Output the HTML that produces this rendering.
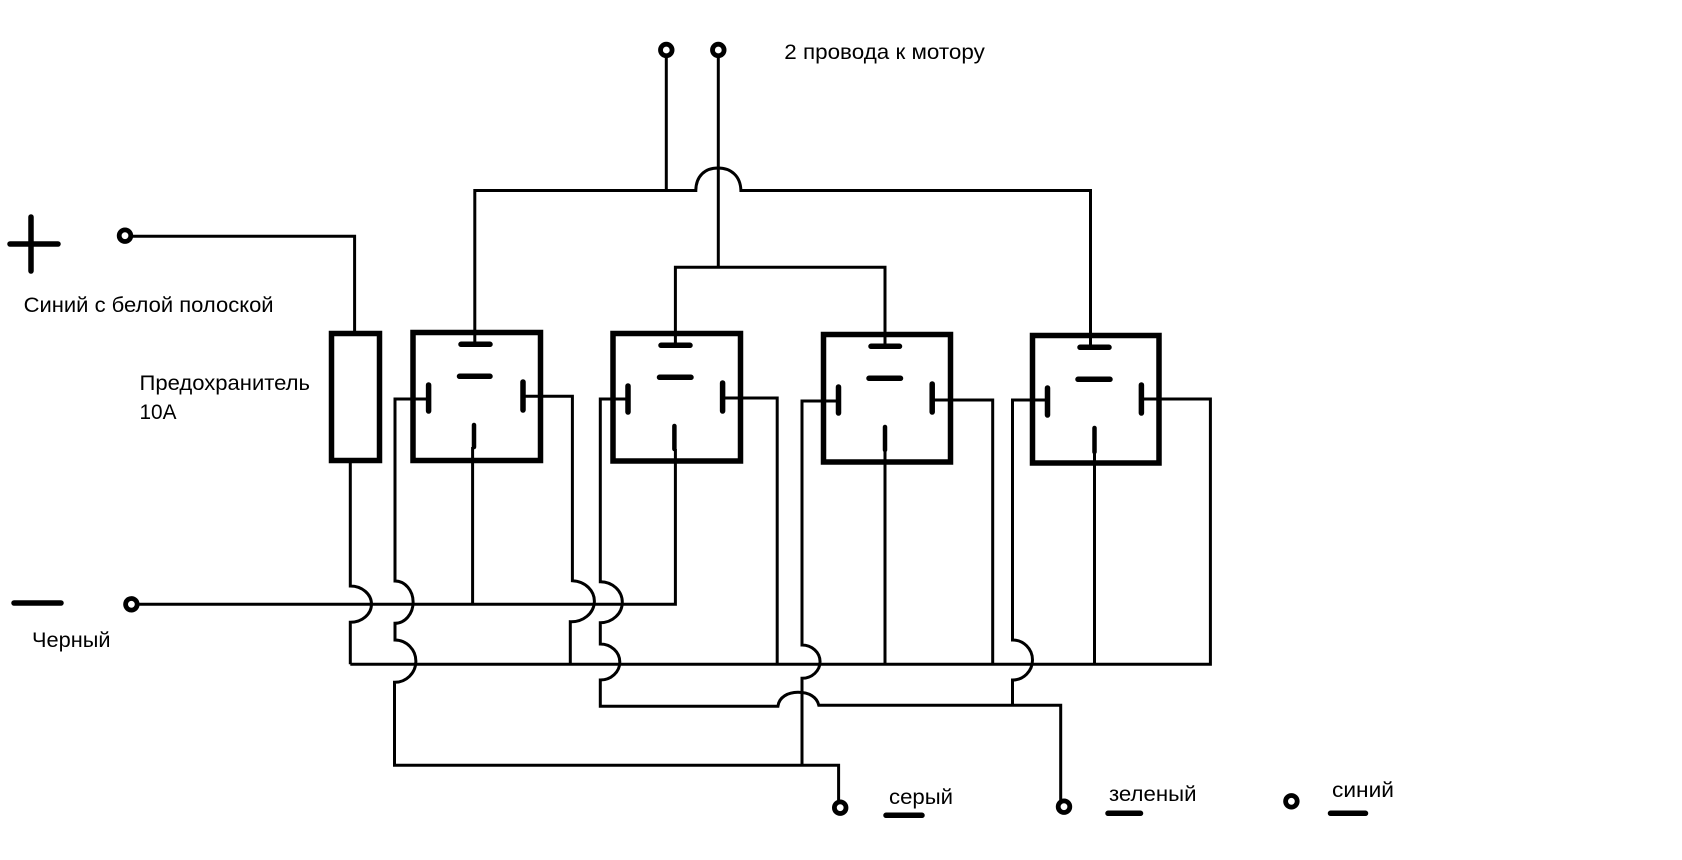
<!DOCTYPE html>
<html lang="ru">
<head>
<meta charset="utf-8">
<title>Схема</title>
<style>
html,body{margin:0;padding:0;background:#fff;width:1682px;height:860px;overflow:hidden}
svg{display:block}
text{font-family:"Liberation Sans","DejaVu Sans",sans-serif;font-size:21px;fill:#000}
.w{fill:none;stroke:#000;stroke-width:3}
.b{fill:#fff;stroke:#000;stroke-width:5.5}
.f{fill:none;stroke:#000;stroke-width:5.5;stroke-linecap:round}
.p{fill:none;stroke:#000;stroke-width:4.5;stroke-linecap:round}
.t{fill:#fff;stroke:#000;stroke-width:4.8}
</style>
</head>
<body>
<svg width="1682" height="860" viewBox="0 0 1682 860" xmlns="http://www.w3.org/2000/svg">
<rect width="1682" height="860" fill="#fff"/>

<!-- boxes -->
<rect class="b" x="331.5" y="333.5" width="48" height="127"/>
<rect class="b" x="413" y="332.5" width="127.5" height="128"/>
<rect class="b" x="613" y="333.5" width="127.5" height="127.5"/>
<rect class="b" x="823.5" y="334.5" width="127" height="127.5"/>
<rect class="b" x="1032.5" y="335.5" width="126.5" height="127.5"/>

<!-- top wiring -->
<path class="w" d="M666.3 50V190.5"/>
<path class="w" d="M718.3 50V267.3"/>
<path class="w" d="M474.8 344V190.5H695.8C696 176 705 168 718 168C731 168 740.5 176 740.9 190.5H1090.5V347"/>
<path class="w" d="M675.4 345V267.3H885V346"/>

<!-- plus -->
<path class="f" d="M10 244H58M31 217V271"/>
<path class="w" d="M125 236.3H354.6V331"/>

<!-- minus line -->
<path class="f" d="M14 603H61"/>
<path class="w" d="M131 604.3H675.4V449"/>

<!-- relay bottom pins -->
<path class="p" d="M474 425V447"/>
<path class="p" d="M674.4 426V449"/>
<path class="p" d="M885 427V450"/>
<path class="p" d="M1094.5 428V452"/>
<path class="w" d="M472.6 447V604"/>
<path class="w" d="M885 450V664"/>
<path class="w" d="M1094.5 452V664"/>

<!-- lower bus -->
<path class="w" d="M350.3 664.3H1210.4V399H1141.4"/>

<!-- fuse lower -->
<path class="w" d="M350.3 463V586A21 18 0 0 1 350.3 622.3V664.3"/>

<!-- relay 1 left -->
<path class="w" d="M428.6 399H395V581A18 21 0 0 1 395 623.3V640A21 21 0 0 1 394.5 682.3V765.3H838.6V805"/>
<!-- relay 1 right -->
<path class="w" d="M523 396.3H572.4V580.7A23 20.5 0 0 1 570.3 621.7V664.3"/>
<!-- relay 2 left -->
<path class="w" d="M628 399H600.3V581.7A22 20.5 0 0 1 600.3 622.7V644A19.5 18 0 0 1 600.3 680V706.3H777.9C779 697 788 692.3 798 692.3C809 692.3 817 697 818.8 705.3H1060.7V805"/>
<!-- relay 2 right -->
<path class="w" d="M722.6 398H777.2V664"/>
<!-- relay 3 left -->
<path class="w" d="M838.5 401H802V645A18 16.6 0 0 1 802 678.3V765.3"/>
<!-- relay 3 right -->
<path class="w" d="M932.2 400H992.7V664"/>
<!-- relay 4 left -->
<path class="w" d="M1047.5 400H1012.5V640A20 20 0 0 1 1012.5 680V705.3"/>

<!-- contacts -->
<path class="f" d="M461 344.3H490M459.5 376.3H490M428.6 385V411M523 382V410"/>
<path class="f" d="M661 345.3H690M659.5 377.3H691M628 386V412M722.6 383V411"/>
<path class="f" d="M871 346.3H899.5M869 378.3H900.5M838.5 387V413M932.2 384V412"/>
<path class="f" d="M1080 347.3H1109M1078 379.3H1110M1047.5 388V415M1141.4 385V413"/>
<path class="f" d="M886 815.3H922M1108 813.3H1140.5M1330.5 813.3H1365.5"/>

<!-- terminals -->
<circle class="t" cx="666.3" cy="50" r="5.8"/>
<circle class="t" cx="718.3" cy="50" r="5.8"/>
<circle class="t" cx="125" cy="235.7" r="5.8"/>
<circle class="t" cx="131.4" cy="604.3" r="5.8"/>
<circle class="t" cx="840.2" cy="807.7" r="5.8"/>
<circle class="t" cx="1064" cy="806.7" r="5.8"/>
<circle class="t" cx="1291.4" cy="801.3" r="5.8"/>

<!-- labels -->
<text x="784.3" y="59" textLength="200.5" lengthAdjust="spacingAndGlyphs">2 провода к мотору</text>
<text x="23.6" y="312" textLength="250" lengthAdjust="spacingAndGlyphs">Синий с белой полоской</text>
<text x="139.5" y="390" textLength="170.5" lengthAdjust="spacingAndGlyphs">Предохранитель</text>
<text x="139.5" y="419" textLength="37" lengthAdjust="spacingAndGlyphs">10А</text>
<text x="32" y="647" textLength="78.5" lengthAdjust="spacingAndGlyphs">Черный</text>
<text x="889" y="804" textLength="64" lengthAdjust="spacingAndGlyphs">серый</text>
<text x="1109" y="801" textLength="87.5" lengthAdjust="spacingAndGlyphs">зеленый</text>
<text x="1332" y="797" textLength="62" lengthAdjust="spacingAndGlyphs">синий</text>
</svg>
</body>
</html>
